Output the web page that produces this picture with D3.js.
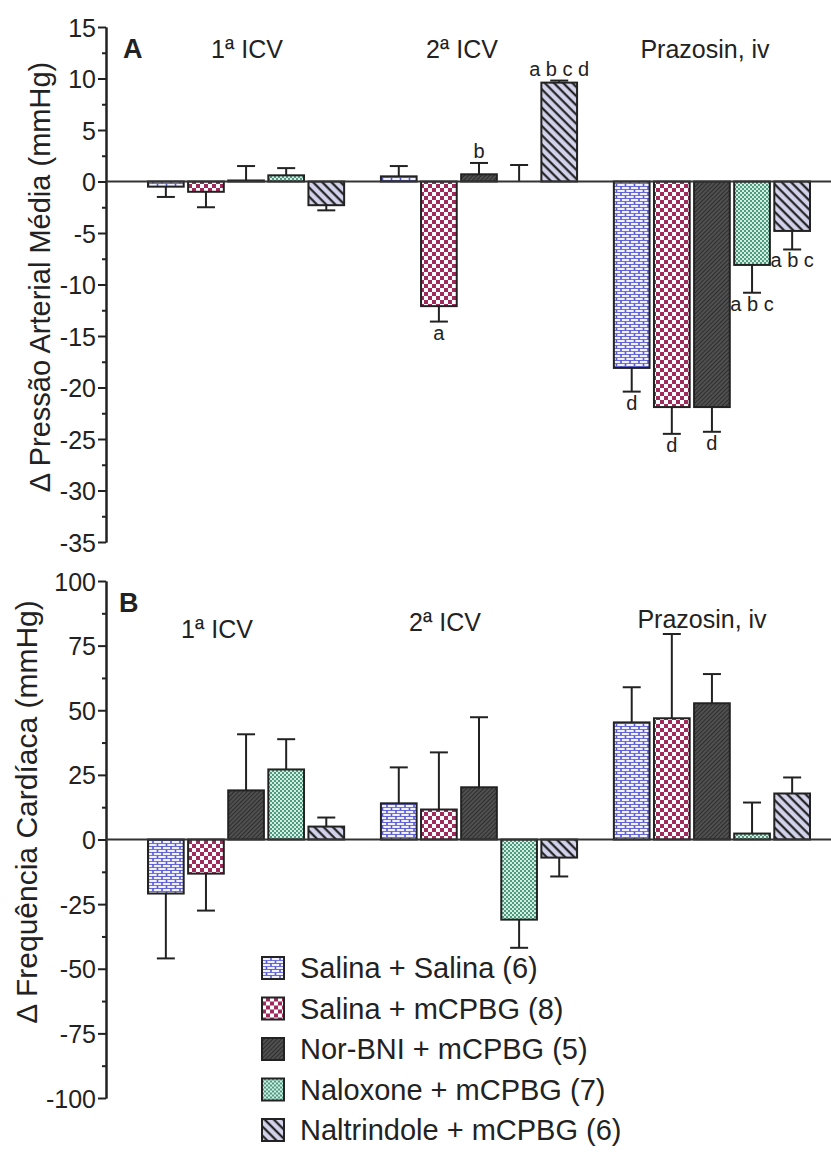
<!DOCTYPE html>
<html lang="pt">
<head>
<meta charset="UTF-8" />
<title>PAM e FC</title>
<script src="https://cdn.jsdelivr.net/npm/d3@7"></script>
<style>
  body { margin: 0; background: #fff; }
  svg { display: block; font-family: Arial, "Liberation Sans", sans-serif; }
  .axis path, .axis line { stroke: #222; stroke-width: 2; }
  .axis text { font-size: 25px; fill: #222; font-family: Arial, "Liberation Sans", sans-serif; }
  .bar { stroke: #222; stroke-width: 2; }
  .err { stroke: #222; stroke-width: 2; fill: none; }
</style>
</head>
<body>
<div id="chart"></div>
<script>
const groups = ["1ª ICV", "2ª ICV", "Prazosin, iv"];
const series = ["Salina + Salina (6)", "Salina + mCPBG (8)", "Nor-BNI + mCPBG (5)",
                "Naloxone + mCPBG (7)", "Naltrindole + mCPBG (6)"];
const patterns = ["brick", "check", "hatch", "dots", "stripe"];

// Δ PAM (mmHg), one row per series, one value per group
const pamMean = [
  [-0.5, 0.5, -18.1],
  [-1.0, -12.1, -21.9],
  [0.1, 0.7, -21.9],
  [0.6, 0.0, -8.1],
  [-2.3, 9.6, -4.8]
];
const pamSem = [
  [1.0, 1.0, 2.3],
  [1.5, 1.5, 2.6],
  [1.4, 1.1, 2.4],
  [0.7, 1.6, 2.7],
  [0.5, 0.2, 1.8]
];
const pamSig = [
  ["", "", "d"],
  ["", "a", "d"],
  ["", "b", "d"],
  ["", "", "a b c"],
  ["", "a b c d", "a b c"]
];

// Δ FC, one row per series
const fcMean = [
  [-20.9, 14.0, 45.3],
  [-13.2, 11.6, 46.9],
  [19.0, 20.2, 52.7],
  [27.1, -31.0, 2.3],
  [5.0, -7.0, 17.8]
];
const fcSem = [
  [25.1, 13.9, 13.6],
  [14.3, 22.1, 32.6],
  [21.7, 27.1, 11.3],
  [11.7, 10.9, 12.0],
  [3.5, 7.3, 6.2]
];

const pamTicks = [15, 10, 5, 0, -5, -10, -15, -20, -25, -30, -35];
const fcTicks = [100, 75, 50, 25, 0, -25, -50, -75, -100];

const width = 831, height = 1152;
const axisX = 106;

const svg = d3.select("#chart").append("svg")
  .attr("width", width).attr("height", height);

svg.append("rect").attr("width", width).attr("height", height).attr("fill", "#fff");

// fill patterns
const defs = svg.append("defs");

const brick = defs.append("pattern").attr("id", "brick")
  .attr("patternUnits", "userSpaceOnUse").attr("width", 9).attr("height", 6);
brick.append("rect").attr("width", 9).attr("height", 6).attr("fill", "#5558d0");
[[0.8, 0.9], [-3.7, 3.9], [5.3, 3.9]].forEach(p => {
  brick.append("rect").attr("x", p[0]).attr("y", p[1]).attr("width", 7.4).attr("height", 2.2).attr("fill", "#f0f0ff");
});

const check = defs.append("pattern").attr("id", "check")
  .attr("patternUnits", "userSpaceOnUse").attr("width", 8).attr("height", 8);
check.append("rect").attr("width", 8).attr("height", 8).attr("fill", "#a02a5c");
check.append("rect").attr("width", 4).attr("height", 4).attr("fill", "#fff");
check.append("rect").attr("x", 4).attr("y", 4).attr("width", 4).attr("height", 4).attr("fill", "#fff");

const hatch = defs.append("pattern").attr("id", "hatch")
  .attr("patternUnits", "userSpaceOnUse").attr("width", 3).attr("height", 3)
  .attr("patternTransform", "rotate(45)");
hatch.append("rect").attr("width", 3).attr("height", 3).attr("fill", "#2e2e2e");
hatch.append("line").attr("x1", 1).attr("x2", 1).attr("y1", 0).attr("y2", 3)
  .attr("stroke", "#7a7a7a").attr("stroke-width", 0.9);

const dots = defs.append("pattern").attr("id", "dots")
  .attr("patternUnits", "userSpaceOnUse").attr("width", 4).attr("height", 4);
dots.append("rect").attr("width", 4).attr("height", 4).attr("fill", "#4c9a80");
dots.append("rect").attr("width", 2).attr("height", 2).attr("fill", "#d4eee3");
dots.append("rect").attr("x", 2).attr("y", 2).attr("width", 2).attr("height", 2).attr("fill", "#d4eee3");

const stripe = defs.append("pattern").attr("id", "stripe")
  .attr("patternUnits", "userSpaceOnUse").attr("width", 6.5).attr("height", 6.5)
  .attr("patternTransform", "rotate(-45)");
stripe.append("rect").attr("width", 6.5).attr("height", 6.5).attr("fill", "#d2d2ea");
stripe.append("line").attr("x1", 1.5).attr("x2", 1.5).attr("y1", 0).attr("y2", 6.5)
  .attr("stroke", "#111").attr("stroke-width", 2.0);

// shared x scales
const x0 = d3.scaleBand().domain(groups).range([148, 810]).paddingInner(0.158).paddingOuter(0);
const x1 = d3.scaleBand().domain(series).range([0, x0.bandwidth()]).paddingInner(0.11).paddingOuter(0);

function panel(opts) {
  const y = d3.scaleLinear().domain(opts.domain).range(opts.range);
  const g = svg.append("g");

  // minor ticks
  const minor = [];
  for (let i = 0; i < opts.ticks.length - 1; i++) minor.push((opts.ticks[i] + opts.ticks[i + 1]) / 2);
  g.append("g").attr("class", "axis").attr("transform", `translate(${axisX},0)`)
    .call(d3.axisLeft(y).tickValues(minor).tickSize(4).tickSizeOuter(0).tickFormat(""));
  g.append("g").attr("class", "axis").attr("transform", `translate(${axisX},0)`)
    .call(d3.axisLeft(y).tickValues(opts.ticks).tickSize(8).tickSizeOuter(0).tickPadding(2).tickFormat(d => String(d)))
    .selectAll("text").attr("dy", "0.36em");

  const rows = [];
  series.forEach((s, si) => groups.forEach((gr, gi) => {
    rows.push({ s, si, gr, v: opts.mean[si][gi], e: opts.sem[si][gi], sig: opts.sig ? opts.sig[si][gi] : "" });
  }));
  const bx = d => x0(d.gr) + x1(d.s);
  const bw = x1.bandwidth();
  const tip = d => d.v >= 0 ? d.v + d.e : d.v - d.e;

  // error bars
  const eb = g.selectAll(".eb").data(rows).join("g").attr("class", "eb");
  eb.append("line").attr("class", "err")
    .attr("x1", d => bx(d) + bw / 2).attr("x2", d => bx(d) + bw / 2)
    .attr("y1", d => y(d.v)).attr("y2", d => y(tip(d)));
  eb.append("line").attr("class", "err")
    .attr("x1", d => bx(d) + bw / 2 - 9).attr("x2", d => bx(d) + bw / 2 + 9)
    .attr("y1", d => y(tip(d))).attr("y2", d => y(tip(d)));

  // bars
  g.selectAll(".bar").data(rows).join("rect").attr("class", "bar")
    .attr("x", d => bx(d)).attr("width", bw)
    .attr("y", d => y(Math.max(0, d.v)))
    .attr("height", d => Math.abs(y(d.v) - y(0)))
    .attr("fill", d => `url(#${patterns[d.si]})`);

  // zero line
  g.append("line").attr("x1", axisX).attr("x2", width)
    .attr("y1", y(0)).attr("y2", y(0)).attr("stroke", "#333").attr("stroke-width", 2);

  // significance letters
  g.selectAll(".sig").data(rows.filter(d => d.sig)).join("text").attr("class", "sig")
    .attr("x", d => bx(d) + bw / 2)
    .attr("y", d => d.v >= 0 ? y(tip(d)) - 5 : y(tip(d)) + 18)
    .attr("text-anchor", "middle").attr("font-size", 20).attr("fill", "#222")
    .text(d => d.sig);

  // group labels
  g.selectAll(".glab").data(groups).join("text").attr("class", "glab")
    .attr("x", (d, i) => opts.labelX[i]).attr("y", (d, i) => opts.labelY[i])
    .attr("text-anchor", "middle").attr("font-size", 25).attr("fill", "#222")
    .text(d => d);

  // panel letter
  g.append("text").attr("x", opts.letterX).attr("y", opts.letterY)
    .attr("font-size", 27).attr("font-weight", "bold").attr("fill", "#222").text(opts.letter);

  // y title
  g.append("text").attr("transform", `translate(${opts.titleX},${opts.titleY}) rotate(-90)`)
    .attr("text-anchor", "middle").attr("font-size", opts.titleSize).attr("fill", "#222")
    .text(opts.title);
}

panel({
  domain: [-35, 15], range: [542, 27], ticks: pamTicks,
  mean: pamMean, sem: pamSem, sig: pamSig,
  labelX: [247, 462, 705], labelY: [58, 58, 58],
  letter: "A", letterX: 123, letterY: 58,
  title: "Δ Pressão Arterial Média (mmHg)", titleX: 50, titleY: 277, titleSize: 29
});

panel({
  domain: [-100, 100], range: [1098, 581], ticks: fcTicks,
  mean: fcMean, sem: fcSem, sig: null,
  labelX: [217, 445, 702], labelY: [638, 631, 628],
  letter: "B", letterX: 119, letterY: 612,
  title: "Δ Frequência Cardíaca (mmHg)", titleX: 37, titleY: 812, titleSize: 30
});

// legend
const legend = svg.append("g").attr("transform", "translate(262,957)");
const row = legend.selectAll("g").data(series).join("g")
  .attr("transform", (d, i) => `translate(0,${i * 40.5})`);
row.append("rect").attr("width", 22).attr("height", 22)
  .attr("fill", (d, i) => `url(#${patterns[i]})`).attr("stroke", "#222").attr("stroke-width", 2);
row.append("text").attr("x", 38).attr("y", 21).attr("font-size", 29).attr("fill", "#222").text(d => d);
</script>
</body>
</html>
